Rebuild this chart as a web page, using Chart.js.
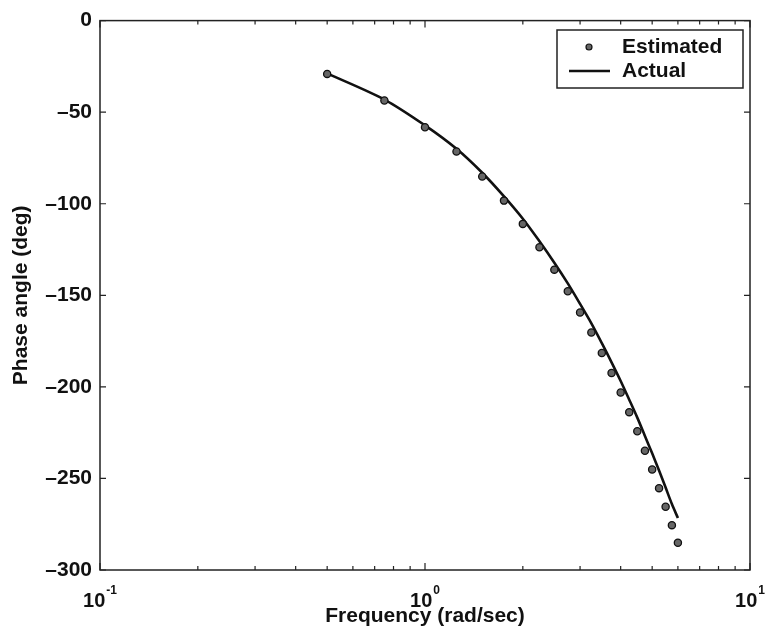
<!DOCTYPE html>
<html>
<head>
<meta charset="utf-8">
<title>Phase angle vs frequency</title>
<script src="https://cdn.jsdelivr.net/npm/chart.js@4.4.1/dist/chart.umd.min.js"></script>
<style>
  html, body { margin: 0; padding: 0; background: #fff; }
  #wrap { width: 770px; height: 643px; }
</style>
</head>
<body>
<div id="wrap"><canvas id="phase-chart" width="770" height="643"></canvas></div>
<script>
// data
const frequency = [0.5, 0.75, 1.0, 1.25, 1.5, 1.75, 2.0, 2.25, 2.5, 2.75, 3.0, 3.25,
                   3.5, 3.75, 4.0, 4.25, 4.5, 4.75, 5.0, 5.25, 5.5, 5.75, 6.0];
const estimatedPhase = [-29.1, -43.6, -58.2, -71.5, -85.1, -98.3, -111.0, -123.8, -136.0, -147.8, -159.4, -170.3,
                        -181.5, -192.4, -203.1, -213.8, -224.2, -234.9, -245.1, -255.3, -265.5, -275.5, -285.1];
const actualPhase = [-28.8, -43.1, -57.2, -70.0, -83.1, -96.0, -108.2, -120.5, -132.2, -143.5, -154.7, -165.3,
                     -176.1, -186.6, -196.8, -207.0, -216.8, -226.8, -236.3, -245.7, -255.0, -264.0, -271.6];

// axis ticks
const xDecades = [0.1, 1, 10];
const xDecadeExponents = ['-1', '0', '1'];
const yMin = -300;
const yMax = 0;
const yStep = 50;

const FONT = "'Liberation Sans', Arial, Helvetica, sans-serif";
const INK = '#111';

function toPoints(ys) {
    return frequency.map((f, i) => ({ x: f, y: ys[i] }));
}

// box around plot + inward tick marks (matlab style)
const frameTicks = {
    id: 'frameTicks',
    afterDatasetsDraw(chart) {
        const { ctx, chartArea: a, scales: { x, y } } = chart;
        ctx.save();
        ctx.strokeStyle = '#222';
        ctx.lineWidth = 1.5;
        ctx.strokeRect(a.left, a.top, a.right - a.left, a.bottom - a.top);

        ctx.lineWidth = 1.2;
        ctx.beginPath();
        y.ticks.forEach(t => {
            const py = y.getPixelForValue(t.value);
            ctx.moveTo(a.left, py); ctx.lineTo(a.left + 6, py);
            ctx.moveTo(a.right, py); ctx.lineTo(a.right - 6, py);
        });
        xDecades.forEach((d, i) => {
            const px = x.getPixelForValue(d);
            ctx.moveTo(px, a.bottom); ctx.lineTo(px, a.bottom - 7);
            ctx.moveTo(px, a.top); ctx.lineTo(px, a.top + 7);
            if (i < xDecades.length - 1) {
                for (let m = 2; m <= 9; m++) {
                    const mx = x.getPixelForValue(d * m);
                    ctx.moveTo(mx, a.bottom); ctx.lineTo(mx, a.bottom - 4);
                    ctx.moveTo(mx, a.top); ctx.lineTo(mx, a.top + 4);
                }
            }
        });
        ctx.stroke();

        // x tick labels as 10 with raised exponent
        ctx.fillStyle = INK;
        ctx.textBaseline = 'alphabetic';
        xDecades.forEach((d, i) => {
            const px = x.getPixelForValue(d);
            ctx.font = 'bold 20px ' + FONT;
            const baseW = ctx.measureText('10').width;
            ctx.font = 'bold 12px ' + FONT;
            const expW = ctx.measureText(xDecadeExponents[i]).width;
            const startX = px - (baseW + 1 + expW) / 2;
            ctx.font = 'bold 20px ' + FONT;
            ctx.textAlign = 'left';
            ctx.fillText('10', startX, a.bottom + 37);
            ctx.font = 'bold 12px ' + FONT;
            ctx.fillText(xDecadeExponents[i], startX + baseW + 1, a.bottom + 24);
        });
        ctx.restore();
    }
};

// legend box inside the axes, top right
const insideLegend = {
    id: 'insideLegend',
    afterDraw(chart) {
        const { ctx } = chart;
        const box = { left: 557, top: 30, width: 186, height: 58 };
        ctx.save();
        ctx.fillStyle = '#fff';
        ctx.fillRect(box.left, box.top, box.width, box.height);
        ctx.strokeStyle = '#222';
        ctx.lineWidth = 1.5;
        ctx.strokeRect(box.left, box.top, box.width, box.height);

        const sets = chart.data.datasets;
        ctx.font = 'bold 21px ' + FONT;
        ctx.fillStyle = INK;
        ctx.textAlign = 'left';
        ctx.textBaseline = 'middle';
        sets.forEach((ds, i) => {
            const cy = box.top + 17 + i * 24;
            if (ds.showLine === false) {
                ctx.beginPath();
                ctx.arc(box.left + 32, cy, 3, 0, Math.PI * 2);
                ctx.fillStyle = ds.pointBackgroundColor;
                ctx.fill();
                ctx.strokeStyle = ds.pointBorderColor;
                ctx.lineWidth = 1.2;
                ctx.stroke();
            } else {
                ctx.beginPath();
                ctx.moveTo(box.left + 12, cy);
                ctx.lineTo(box.left + 53, cy);
                ctx.strokeStyle = ds.borderColor;
                ctx.lineWidth = ds.borderWidth;
                ctx.stroke();
            }
            ctx.fillStyle = INK;
            ctx.fillText(ds.label, box.left + 65, cy);
        });
        ctx.restore();
    }
};

const chartCtx = document.getElementById('phase-chart').getContext('2d');

const phaseChart = new Chart(chartCtx, {
    type: 'scatter',
    data: {
        datasets: [{
            label: 'Estimated',
            data: toPoints(estimatedPhase),
            showLine: false,
            pointRadius: 3.6,
            pointBackgroundColor: '#666',
            pointBorderColor: '#111',
            pointBorderWidth: 1.3
        }, {
            label: 'Actual',
            data: toPoints(actualPhase),
            showLine: true,
            borderColor: '#111',
            borderWidth: 2.6,
            pointRadius: 0,
            tension: 0.3,
            fill: false
        }]
    },
    options: {
        responsive: false,
        animation: false,
        layout: { padding: { top: 20, right: 20, bottom: 0, left: 0 } },
        plugins: {
            legend: { display: false },
            tooltip: { enabled: false }
        },
        scales: {
            x: {
                type: 'logarithmic',
                min: 0.1,
                max: 10,
                grid: { display: false, drawTicks: false },
                border: { display: false },
                ticks: { display: false },
                title: {
                    display: true,
                    text: 'Frequency (rad/sec)',
                    color: INK,
                    font: { family: FONT, size: 21, weight: 'bold' },
                    padding: { top: 0, bottom: 14 }
                },
                afterFit(scale) { scale.height = 73; }
            },
            y: {
                min: yMin,
                max: yMax,
                grid: { display: false, drawTicks: false },
                border: { display: false },
                ticks: {
                    stepSize: yStep,
                    padding: 8,
                    color: INK,
                    font: { family: FONT, size: 21, weight: 'bold' },
                    callback: v => String(v).replace('-', '\u2013')
                },
                title: {
                    display: true,
                    text: 'Phase angle (deg)',
                    color: INK,
                    font: { family: FONT, size: 21, weight: 'bold' },
                    padding: { top: 9, bottom: 0 }
                },
                afterFit(scale) { scale.width = 100; }
            }
        }
    },
    plugins: [frameTicks, insideLegend]
});
</script>
</body>
</html>
